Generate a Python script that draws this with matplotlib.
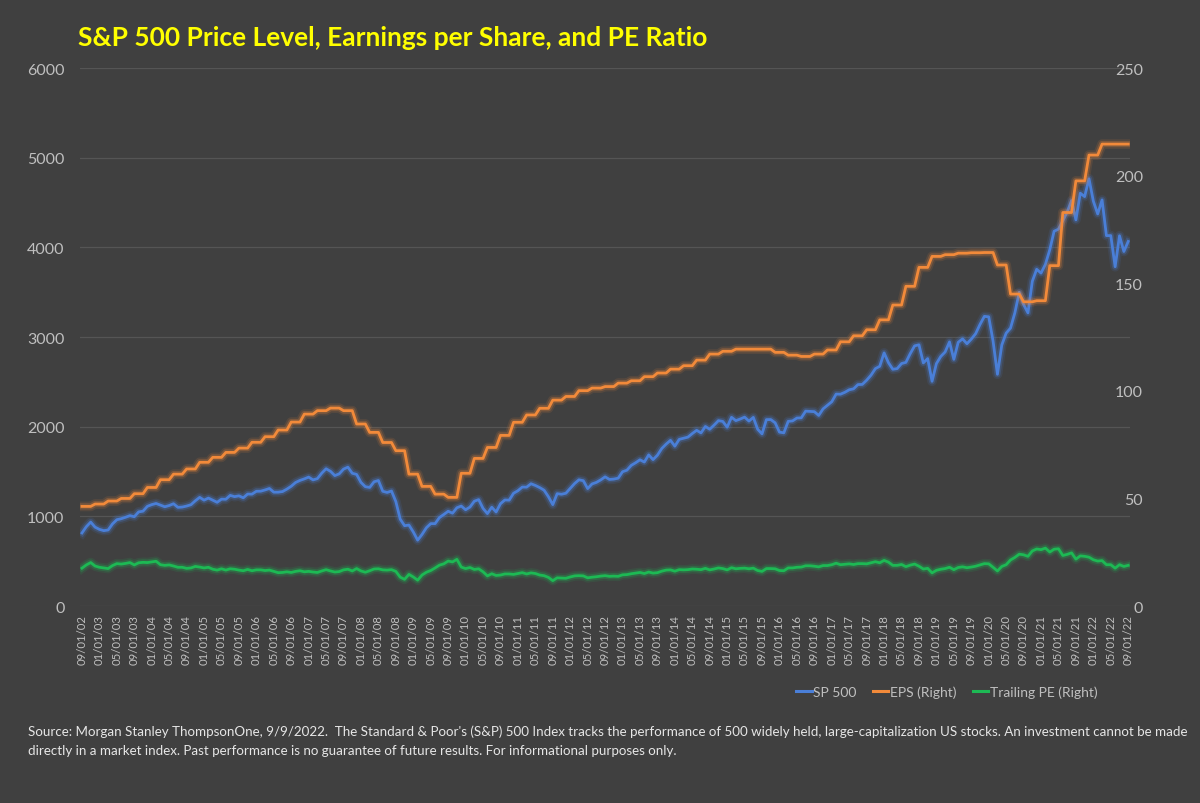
import numpy as np
import pandas as pd
import matplotlib
matplotlib.use("Agg")
import matplotlib.pyplot as plt
import matplotlib.patheffects as pe

# ---------------- data ----------------
months = pd.date_range("2002-09-01", periods=241, freq="MS")
categories = [d.strftime("%m/%d/%y") for d in months]

sp500 = [
    815, 885, 936, 880,
    855, 841, 848, 916, 963, 974, 990, 1008, 996, 1050, 1058, 1112,
    1131, 1144, 1126, 1107, 1121, 1141, 1101, 1104, 1115, 1130, 1174, 1212,
    1181, 1204, 1181, 1157, 1192, 1191, 1234, 1220, 1229, 1207, 1249, 1248,
    1280, 1281, 1295, 1311, 1270, 1270, 1277, 1304, 1336, 1378, 1401, 1418,
    1438, 1407, 1421, 1482, 1531, 1503, 1455, 1474, 1527, 1549, 1481, 1468,
    1379, 1331, 1323, 1386, 1400, 1280, 1267, 1283, 1165, 969, 896, 903,
    826, 735, 798, 873, 919, 919, 987, 1021, 1057, 1036, 1096, 1115,
    1074, 1104, 1169, 1187, 1089, 1031, 1102, 1049, 1141, 1183, 1181, 1258,
    1286, 1327, 1326, 1364, 1345, 1321, 1292, 1219, 1131, 1253, 1247, 1258,
    1312, 1366, 1408, 1398, 1310, 1362, 1379, 1407, 1441, 1412, 1416, 1426,
    1498, 1515, 1569, 1598, 1631, 1606, 1686, 1633, 1682, 1757, 1806, 1848,
    1783, 1859, 1872, 1884, 1924, 1960, 1931, 2003, 1972, 2018, 2068, 2059,
    1995, 2105, 2068, 2086, 2107, 2063, 2104, 1972, 1920, 2079, 2080, 2044,
    1940, 1932, 2060, 2065, 2097, 2099, 2174, 2171, 2168, 2126, 2199, 2239,
    2279, 2364, 2363, 2384, 2412, 2423, 2470, 2472, 2519, 2575, 2648, 2674,
    2824, 2714, 2641, 2648, 2705, 2718, 2816, 2902, 2914, 2712, 2760, 2507,
    2704, 2784, 2834, 2946, 2752, 2942, 2980, 2926, 2977, 3038, 3141, 3231,
    3226, 2954, 2585, 2912, 3044, 3100, 3271, 3500, 3363, 3270, 3622, 3756,
    3714, 3811, 3973, 4181, 4204, 4298, 4395, 4523, 4308, 4605, 4567, 4766,
    4516, 4374, 4530, 4132, 4132, 3785, 4130, 3955, 4067,
]

# trailing EPS, one value per 3-month step (held for each month of the step)
eps_steps = [
    46.3, 47.4, 48.8, 50.0, 52.2, 55.1, 58.7, 61.3, 63.7, 66.8,
    69.1, 71.4, 73.4, 76.1, 78.7, 81.8, 85.5, 89.2, 90.8, 92.0,
    90.8, 84.6, 80.7, 76.0, 72.2, 61.3, 55.6, 52.0, 50.5, 61.7,
    68.6, 73.7, 79.3, 85.4, 88.8, 91.9, 95.7, 97.4, 100.1, 101.3,
    102.0, 103.6, 104.7, 106.6, 108.3, 110.1, 111.7, 114.3, 117.1, 118.4,
    119.4, 119.4, 119.4, 117.9, 116.6, 116.0, 117.1, 119.0, 122.8, 125.6,
    128.4, 133.0, 139.9, 148.6, 157.4, 162.5, 163.3, 164.0, 164.2, 164.3,
    158.5, 145.0, 141.4, 141.9, 158.2, 182.9, 197.6, 209.6, 214.7, 214.7,
    214.7,
]
eps = np.repeat(eps_steps, 3)[:len(sp500)]

trailing_pe = [
    17.6, 19.1, 20.2, 18.6, 18.0, 17.7, 17.4, 18.8, 19.7, 19.5, 19.8, 20.2,
    19.1, 20.1, 20.3, 20.2, 20.5, 20.8, 19.2, 18.9, 19.1, 18.6, 18.0, 18.0,
    17.5, 17.7, 18.4, 18.1, 17.7, 18.0, 17.1, 16.7, 17.3, 16.7, 17.3, 17.1,
    16.7, 16.4, 17.0, 16.4, 16.8, 16.8, 16.5, 16.7, 16.1, 15.5, 15.6, 15.9,
    15.6, 16.1, 16.4, 15.9, 16.1, 15.8, 15.6, 16.3, 16.9, 16.3, 15.8, 16.0,
    16.8, 17.1, 16.3, 17.4, 16.3, 15.7, 16.4, 17.2, 17.3, 16.8, 16.7, 16.9,
    16.1, 13.4, 12.4, 14.7, 13.5, 12.0, 14.4, 15.7, 16.5, 17.7, 19.0, 19.6,
    20.9, 20.5, 21.7, 18.1, 17.4, 17.9, 17.0, 17.3, 15.9, 14.0, 15.0, 14.2,
    14.4, 14.9, 14.9, 14.7, 15.1, 15.5, 14.9, 15.4, 15.1, 14.4, 14.1, 13.3,
    11.8, 13.1, 13.0, 12.9, 13.5, 14.0, 14.1, 14.0, 13.1, 13.4, 13.6, 13.9,
    14.1, 13.8, 13.9, 13.8, 14.5, 14.6, 15.0, 15.3, 15.6, 15.1, 15.8, 15.3,
    15.5, 16.2, 16.7, 16.8, 16.2, 16.9, 16.8, 16.9, 17.2, 17.1, 16.9, 17.5,
    16.8, 17.2, 17.7, 17.4, 16.8, 17.8, 17.3, 17.5, 17.6, 17.3, 17.6, 16.5,
    16.1, 17.4, 17.4, 17.3, 16.5, 16.4, 17.7, 17.7, 18.0, 18.1, 18.7, 18.7,
    18.5, 18.2, 18.8, 18.8, 19.2, 19.9, 19.2, 19.4, 19.6, 19.3, 19.7, 19.7,
    19.6, 20.1, 20.6, 20.1, 21.2, 20.4, 18.9, 18.9, 19.3, 18.3, 19.0, 19.5,
    18.5, 17.2, 17.5, 15.4, 16.6, 17.1, 17.4, 18.0, 16.9, 17.9, 18.2, 17.8,
    18.1, 18.5, 19.1, 19.7, 19.6, 18.0, 16.3, 18.4, 19.2, 21.4, 22.6, 24.1,
    23.8, 23.1, 25.6, 26.5, 26.2, 26.9, 25.1, 26.4, 26.6, 23.5, 24.0, 24.7,
    21.8, 23.3, 23.1, 22.7, 21.5, 20.9, 21.1, 19.2, 19.2, 17.6, 19.2, 18.4,
    18.9,
]

left_ticks = [0, 1000, 2000, 3000, 4000, 5000, 6000]
right_ticks = [0, 50, 100, 150, 200, 250]

title = "S&P 500 Price Level, Earnings per Share, and PE Ratio"
source = ("Source: Morgan Stanley ThompsonOne, 9/9/2022.  The Standard & Poor's (S&P) 500 Index tracks the performance of 500 widely held, large-capitalization US stocks. An investment cannot be made\n"
          "directly in a market index. Past performance is no guarantee of future results. For informational purposes only.")

# ---------------- style ----------------
BG = "#404040"
TXT = "#BFBFBF"
BLUE = "#4A7FD8"
ORANGE = "#F28A3A"
GREEN = "#1DB954"
GRID = "#555555"
FONT = "Lato"

plt.rcParams["font.family"] = [FONT, "DejaVu Sans"]

fig = plt.figure(figsize=(12, 8.04), dpi=100, facecolor=BG)
ax = fig.add_axes([0.0665, 0.245, 0.8755, 0.669])
ax.set_facecolor(BG)
ax2 = ax.twinx()

x = np.arange(len(sp500))

def glow(color):
    return [pe.Stroke(linewidth=7, foreground=color, alpha=0.12),
            pe.Stroke(linewidth=4.5, foreground=color, alpha=0.25),
            pe.Normal()]

l1, = ax.plot(x, sp500, color=BLUE, lw=2.0, path_effects=glow(BLUE), label="SP 500", zorder=3)
l2, = ax2.plot(x, eps, color=ORANGE, lw=2.0, path_effects=glow(ORANGE), label="EPS (Right)", zorder=3)
l3, = ax2.plot(x, trailing_pe, color=GREEN, lw=2.0, path_effects=glow(GREEN), label="Trailing PE (Right)", zorder=3)

ax.set_xlim(-0.5, len(sp500) - 0.5)
ax.set_ylim(0, 6000)
ax2.set_ylim(0, 250)
ax.set_yticks(left_ticks)
ax2.set_yticks(right_ticks)
ax.grid(axis="y", color=GRID, lw=0.9)
ax.set_axisbelow(True)

tick_pos = x[::4]
ax.set_xticks(tick_pos)
ax.set_xticklabels([categories[i] for i in tick_pos], rotation=90, fontsize=8.2, color=TXT)

for a in (ax, ax2):
    for s in a.spines.values():
        s.set_visible(False)
ax.tick_params(axis="both", length=0, colors=TXT)
ax.tick_params(axis="y", labelsize=11.5, pad=11)
ax.tick_params(axis="x", pad=6)
ax2.tick_params(axis="y", length=0, labelsize=11.5, colors=TXT, pad=9)
for t in ax2.get_yticklabels():
    t.set_horizontalalignment("right")

fig.text(0.065, 0.953, title, color="#FFFF00", fontsize=19, fontweight="bold", va="center", ha="left")

leg = fig.legend(handles=[l1, l2, l3], loc="center", bbox_to_anchor=(0.789, 0.138), ncol=3,
                 frameon=False, fontsize=10, handlelength=1.1, handletextpad=0.1,
                 columnspacing=1.2, labelcolor=TXT)
for h in leg.get_lines():
    h.set_path_effects([])
    h.set_linewidth(2.2)

fig.text(0.023, 0.098, source, color="#E6E6E6", fontsize=9.6, va="top", ha="left", linespacing=1.7)

fig.savefig("out.png", dpi=100, facecolor=BG)
